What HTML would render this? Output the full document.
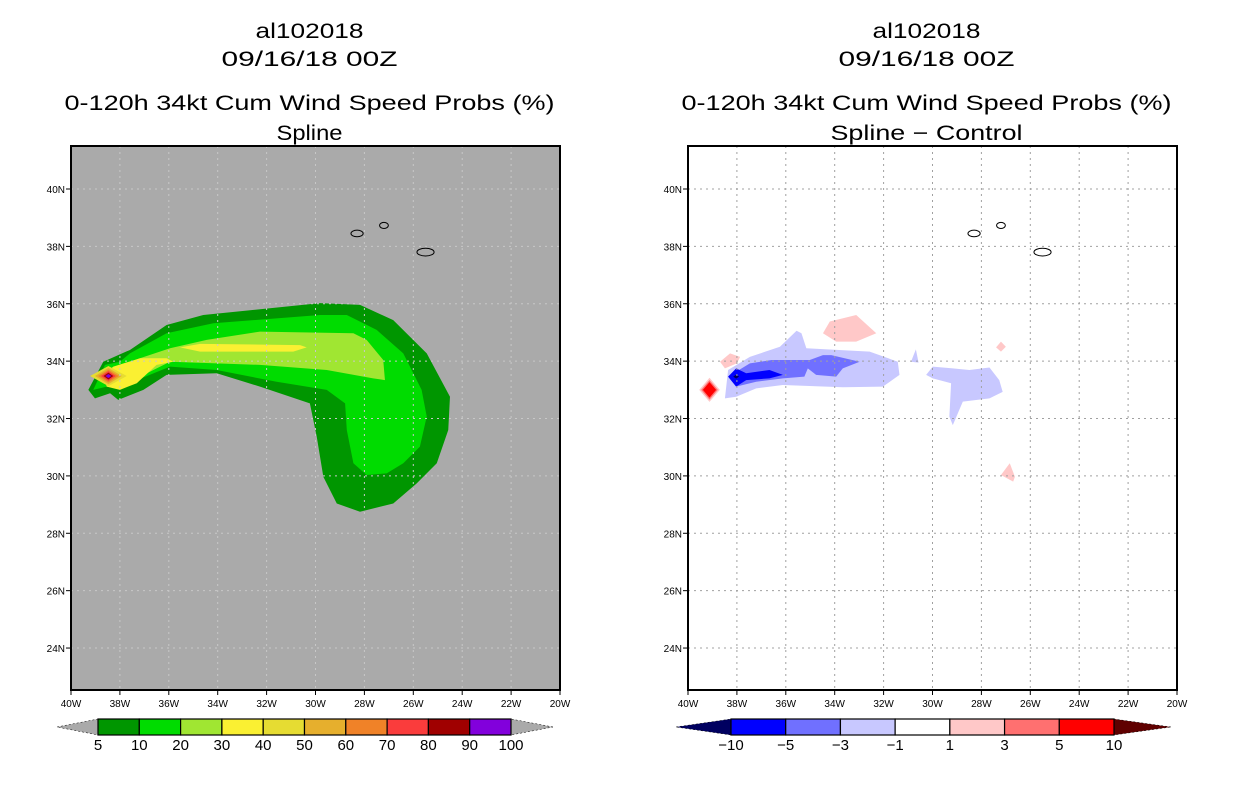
<!DOCTYPE html>
<html><head><meta charset="utf-8"><style>
html,body{margin:0;padding:0;background:#fff;width:1236px;height:800px;overflow:hidden}
svg text{font-family:"Liberation Sans",sans-serif;fill:#000}
</style></head><body>
<svg id="root" width="1236" height="800" viewBox="0 0 1236 800" xmlns="http://www.w3.org/2000/svg">
<g id="left"></g>
<g id="right"></g>
</svg>
<script>
const NS='http://www.w3.org/2000/svg';
// ---- data ----
const lonTicks=[40,38,36,34,32,30,28,26,24,22,20];
const latTicks=[24,26,28,30,32,34,36,38,40];
const probLevels=['5','10','20','30','40','50','60','70','80','90','100'];
const probColors=['#009600','#00dc00','#a0e632','#faf032','#e6dc32','#e6af2d','#f08228','#fa3c3c','#a00000','#8200dc'];
const diffLevels=['\u221210','\u22125','\u22123','\u22121','1','3','5','10'];
const diffColors=['#0000ff','#7070ff','#c8c8ff','#ffffff','#ffc8c8','#ff7070','#ff0000'];
// probability contours (lon W, lat N)
const prob5Lon=[39.29,38.68,37.59,36.09,34.59,29.82,28.18,26.82,25.45,24.50,24.57,25.04,25.86,26.82,28.18,29.13,29.68,29.95,30.23,32.27,34.04,36.09,37.04,38.07,38.40,39.02];
const prob5Lat=[33.0,33.98,34.39,35.26,35.61,36.02,35.96,35.43,34.27,32.76,31.60,30.44,29.74,29.04,28.75,29.04,29.97,31.37,32.53,33.11,33.58,33.52,33.0,32.65,32.88,32.70];
const prob10Lon=[39.09,38.61,38.0,37.59,36.09,34.18,29.82,28.72,27.50,26.41,25.66,25.45,25.73,26.41,27.09,27.91,28.45,28.72,28.79,29.54,31.59,34.04,35.95,37.31,38.07,38.54];
const prob10Lat=[33.0,33.87,33.98,34.27,34.97,35.32,35.61,35.61,35.09,34.27,33.0,32.07,31.02,30.44,30.09,30.03,30.44,31.60,32.53,33.0,33.28,33.69,33.81,33.34,33.11,33.11];
const prob20Lon=[38.61,38.07,37.18,35.95,34.45,32.27,28.45,27.91,27.23,27.16,27.64,29.54,32.27,34.04,35.95,36.63,37.45,38.27];
const prob20Lat=[33.52,33.81,34.10,34.45,34.74,35.03,34.97,34.74,34.04,33.34,33.40,33.69,33.87,33.92,33.98,33.69,33.34,33.11];
const prob30aLon=[35.54,34.72,30.63,30.36,30.91,34.72];
const prob30aLat=[34.48,34.60,34.56,34.48,34.33,34.33];
const prob30bLon=[38.68,38.27,37.18,36.09,35.82,36.50,37.31,38.0,38.54];
const prob30bLat=[33.52,33.81,34.10,34.10,33.98,33.87,33.23,33.0,33.11];
const coreLon=38.47, coreLat=33.48;
const coreRx=[0.75,0.55,0.42,0.3,0.2,0.12], coreRy=[0.35,0.28,0.22,0.17,0.12,0.07];
// difference contours
const dL1aLon=[38.49,38.36,37.47,36.24,35.56,35.36,35.16,32.57,31.42,31.35,32.03,33.67,36.12,37.21,38.03];
const dL1aLat=[32.70,33.69,34.15,34.50,35.06,34.97,34.45,34.33,33.98,33.52,33.11,33.09,33.17,33.05,32.76];
const dL1bLon=[30.26,29.99,29.17,28.49,27.67,27.27,27.13,27.67,28.76,29.17,29.31,29.24,29.99];
const dL1bLat=[33.52,33.81,33.75,33.69,33.78,33.34,32.93,32.70,32.59,31.77,32.07,33.23,33.40];
const dL1cLon=[30.88,30.68,30.57]; const dL1cLat=[33.98,34.41,33.95];
const dL3Lon=[38.36,37.47,36.58,35.02,34.48,34.14,32.98,33.67,33.94,34.76,35.10,35.24,36.12,37.21,38.03];
const dL3Lat=[33.46,33.92,34.04,34.04,34.21,34.21,33.98,33.75,33.46,33.52,33.75,33.46,33.40,33.28,33.11];
const dL5Lon=[38.36,38.03,37.62,36.67,36.12,36.67,37.62,38.03];
const dL5Lat=[33.46,33.75,33.58,33.69,33.52,33.40,33.34,33.11];
const dP1aLon=[34.48,34.20,33.12,32.30,33.12,33.94]; const dP1aLat=[34.97,35.38,35.61,34.97,34.68,34.68];
const dP1bLon=[38.69,38.28,37.87,38.00,38.49]; const dP1bLat=[33.98,34.27,34.15,33.92,33.75];
const dP1cLon=[27.20,27.00,27.20,27.40]; const dP1cLat=[34.68,34.50,34.33,34.48];
const dP1dLon=[26.84,26.63,26.70,27.20]; const dP1dLat=[30.44,29.97,29.80,30.03];
const redLon=39.12, redLat=33.0;
// islands
const islandLon=[28.3,27.2,25.5], islandLat=[38.45,38.73,37.8], islandRx=[0.25,0.18,0.35], islandRy=[0.08,0.07,0.1];

function el(p,t,a){const e=document.createElementNS(NS,t);for(const k in a)e.setAttribute(k,a[k]);p.appendChild(e);return e;}
const top0=146,bot=690;
const yS=la=>189+(40-la)*28.69;

function panel(g,x0,opt){
  const xS=lo=>x0+(40-lo)*24.45;
  const W=489;
  const bg=el(g,'rect',{x:x0,y:top0,width:W,height:bot-top0,fill:opt.bg});
  
  const poly=(lons,lats,fill,name)=>{const p=el(g,'polygon',{points:lons.map((lo,i)=>xS(lo)+','+yS(lats[i])).join(' '),fill:fill});
    return p;};
  const diamond=(lo,la,rx,ry,fill,name)=>poly([lo+rx,lo,lo-rx,lo],[la,la+ry,la,la-ry],fill,name);
  opt.draw(poly,diamond,xS);
  // grid
  const cx=el(g,'g',{});
  lonTicks.slice(1,-1).forEach(lo=>{const l=el(cx,'line',{x1:xS(lo),x2:xS(lo),y1:top0,y2:bot,stroke:opt.grid,'stroke-dasharray':'2,4'});
    });
  latTicks.forEach(la=>{const l=el(cx,'line',{x1:x0,x2:x0+W,y1:yS(la),y2:yS(la),stroke:opt.grid,'stroke-dasharray':'2,4'});
    });
  // islands
  islandLon.forEach((lo,i)=>{const e=el(g,'ellipse',{cx:xS(lo),cy:yS(islandLat[i]),rx:islandRx[i]*24.45,ry:islandRy[i]*28.69+1,fill:opt.bg==='#aaaaaa'?'none':'#fff',stroke:'#000','stroke-width':1});
    });
  const fr=el(g,'rect',{x:x0,y:top0,width:W,height:bot-top0,fill:'none',stroke:'#000','stroke-width':2});
  
  lonTicks.forEach(lo=>{el(g,'line',{x1:xS(lo),x2:xS(lo),y1:bot,y2:bot+5,stroke:'#000'});
    const t=el(g,'text',{x:xS(lo),y:bot+17,'font-size':10,'text-anchor':'middle'});t.textContent=lo+'W';
    });
  latTicks.forEach(la=>{el(g,'line',{x1:x0-5,x2:x0,y1:yS(la),y2:yS(la),stroke:'#000'});
    const t=el(g,'text',{x:x0-6,y:yS(la)+4,'font-size':10,'text-anchor':'end'});t.textContent=la+'N';
    });
  // titles
  const cxm=x0+W/2-6;
  [['al102018',38,108],['09/16/18 00Z',66,176],[opt.t1,110,490],[opt.t2,140,opt.t2w]].forEach(([s,y,w],i)=>{
    const t=el(g,'text',{x:cxm,y:y,'font-size':21,'text-anchor':'middle',textLength:w,lengthAdjust:'spacingAndGlyphs'});t.textContent=s;
    });
  // colorbar
  const cb=el(g,'g',{});
  const {tipL,b0,b1,tipR,cols,labs,lowC,highC}=opt.cb;
  const n=cols.length,bw=(b1-b0)/n;
  const lt=el(cb,'polygon',{points:`${tipL},727 ${b0},719 ${b0},735`,fill:lowC,stroke:'#000','stroke-width':0.5,'stroke-dasharray':'2,2'});
  
  const rt=el(cb,'polygon',{points:`${tipR},727 ${b1},719 ${b1},735`,fill:highC,stroke:'#000','stroke-width':0.5,'stroke-dasharray':'2,2'});
  
  cols.forEach((c,i)=>{const r=el(cb,'rect',{x:b0+i*bw,y:719,width:bw,height:16,fill:c,stroke:'#000','stroke-width':1.2});
    });
  labs.forEach((s,i)=>{const t=el(cb,'text',{x:b0+i*bw,y:750,'font-size':15,'text-anchor':'middle'});t.textContent=s;
    });
}

panel(document.getElementById('left'),71,{bg:'#aaaaaa',grid:'#c8c8c8',t1:'0-120h 34kt Cum Wind Speed Probs (%)',t2:'Spline',t2w:66,
 draw:(poly,diamond)=>{
  poly(prob5Lon,prob5Lat,probColors[0],'prob-5-contour');
  poly(prob10Lon,prob10Lat,probColors[1],'prob-10-contour');
  poly(prob20Lon,prob20Lat,probColors[2],'prob-20-contour');
  poly(prob30aLon,prob30aLat,probColors[3],'prob-30-contour');
  poly(prob30bLon,prob30bLat,probColors[3],'prob-30-contour');
  coreRx.forEach((rx,i)=>diamond(coreLon,coreLat,rx,coreRy[i],probColors[4+i],'prob-core-contour'));
 },
 cb:{tipL:57,b0:98,b1:511,tipR:553,cols:probColors,labs:probLevels,lowC:'#aaaaaa',highC:'#aaaaaa'}});

panel(document.getElementById('right'),688,{bg:'#ffffff',grid:'#a0a0a0',t1:'0-120h 34kt Cum Wind Speed Probs (%)',t2:'Spline \u2212 Control',t2w:192,
 draw:(poly,diamond)=>{
  poly(dL1aLon,dL1aLat,diffColors[2],'diff-minus1-contour');
  poly(dL1bLon,dL1bLat,diffColors[2],'diff-minus1-contour');
  poly(dL1cLon,dL1cLat,diffColors[2],'diff-minus1-contour');
  poly(dL3Lon,dL3Lat,diffColors[1],'diff-minus3-contour');
  poly(dL5Lon,dL5Lat,diffColors[0],'diff-minus5-contour');
  diamond(38.03,33.46,0.12,0.07,'#000060','diff-minus10-contour');
  poly(dP1aLon,dP1aLat,diffColors[4],'diff-plus1-contour');
  poly(dP1bLon,dP1bLat,diffColors[4],'diff-plus1-contour');
  poly(dP1cLon,dP1cLat,diffColors[4],'diff-plus1-contour');
  poly(dP1dLon,dP1dLat,diffColors[4],'diff-plus1-contour');
  diamond(redLon,redLat,0.42,0.42,diffColors[4],'diff-plus1-contour');
  diamond(redLon,redLat,0.34,0.34,diffColors[5],'diff-plus3-contour');
  diamond(redLon,redLat,0.27,0.27,diffColors[6],'diff-plus5-contour');
 },
 cb:{tipL:676,b0:731,b1:1114,tipR:1171,cols:diffColors,labs:diffLevels,lowC:'#000060',highC:'#600000'}});
</script>
</body></html>
